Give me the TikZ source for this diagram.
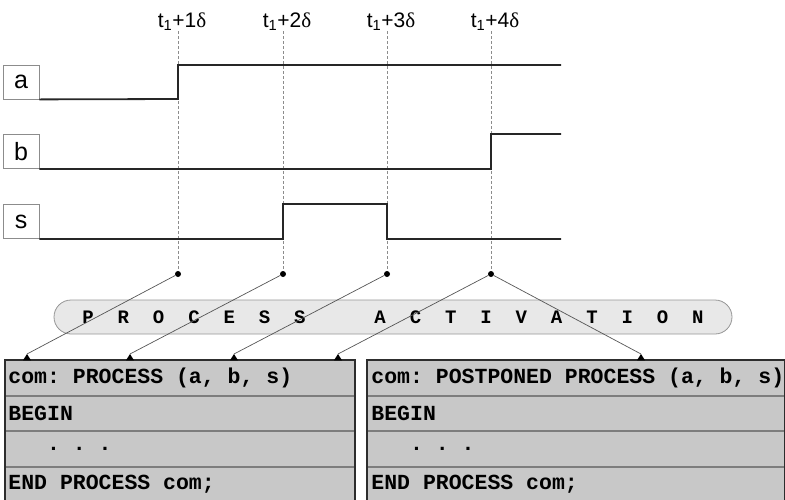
\documentclass[tikz,border=0pt]{standalone}
\usepackage{fontspec}
\setmainfont{Liberation Sans}
\newfontfamily\symfont{Liberation Serif}
\newfontfamily\codefont{Liberation Mono}
\definecolor{codefill}{RGB}{200,200,200}
\definecolor{rowline}{RGB}{125,125,125}
\definecolor{boxedge}{RGB}{45,45,45}
\definecolor{pillfill}{RGB}{232,232,232}
\definecolor{pilledge}{RGB}{150,150,150}
\definecolor{connc}{RGB}{85,85,85}
\definecolor{dashc}{RGB}{140,140,140}
\newcommand\pletter[1]{\makebox[35.3pt]{#1}}
\newcommand\sk{\hspace*{0.6em}}
\begin{document}
\begin{tikzpicture}[x=1pt,y=-1pt,
  sig/.style={line width=1.8pt, color=black!85, line join=miter},
  tline/.style={dashc, line width=0.7pt, dash pattern=on 3pt off 2pt},
  tlabel/.style={anchor=base, font=\fontsize{21}{24}\selectfont, inner sep=0pt},
  slabel/.style={draw=black!45, fill=white, line width=0.8pt, minimum width=36pt, minimum height=34pt, inner sep=0pt, font=\fontsize{25}{27}\selectfont},
  dotn/.style={circle, fill=black, inner sep=0pt, minimum size=6pt},
  pill/.style={draw=pilledge, fill=pillfill, line width=0.8pt, rounded corners=17pt, minimum width=678pt, minimum height=34pt, inner sep=0pt, font=\codefont\bfseries\fontsize{19}{22}\selectfont},
  row/.style={draw=rowline, fill=codefill, line width=0.8pt, minimum height=34.75pt, inner ysep=0pt, anchor=north west, font=\codefont\bfseries\fontsize{21.5}{24}\selectfont, align=left},
  outer/.style={draw=boxedge, line width=1.4pt},
  conn/.style={connc, line width=0.7pt},
  tip/.style={fill=black}
]
\useasboundingbox (0,0) rectangle (785,499);

% time labels and dashed lines
\node[tlabel] (T1) at (182,27) {t\textsubscript{1}+1{\symfont δ}};
\node[tlabel] (T2) at (287,27) {t\textsubscript{1}+2{\symfont δ}};
\node[tlabel] (T3) at (391,27) {t\textsubscript{1}+3{\symfont δ}};
\node[tlabel] (T4) at (495,27) {t\textsubscript{1}+4{\symfont δ}};
\coordinate (top1) at (178,31);
\coordinate (top2) at (283,31);
\coordinate (top3) at (387,31);
\coordinate (top4) at (491,31);
\node[dotn] (d1) at (178,274) {};
\node[dotn] (d2) at (283,274) {};
\node[dotn] (d3) at (387,274) {};
\node[dotn] (d4) at (491,274) {};
\foreach \i in {1,2,3,4} \draw[tline] (top\i) -- (d\i);

% signals
\node[slabel] (la) at (21,82) {a};
\node[slabel] (lb) at (21,151.5) {b};
\node[slabel] (ls) at (21,221.5) {s};
\draw[sig] (la.south east) -- (178,99) -- (178,65) -- (561,65);
\draw[sig] (lb.south east) -- (491,169) -- (491,134) -- (561,134);
\draw[sig] (ls.south east) -- (283,239) -- (283,204) -- (387,204) -- (387,239) -- (561,239);

% process activation pill
\node[pill] (pa) at (393,317) {\pletter{P}\pletter{R}\pletter{O}\pletter{C}\pletter{E}\pletter{S}\pletter{S}\hspace{45pt}\pletter{A}\pletter{C}\pletter{T}\pletter{I}\pletter{V}\pletter{A}\pletter{T}\pletter{I}\pletter{O}\pletter{N}};

% left code box
\node[row, inner xsep=3pt, text width=343pt] (l1) at (5,360) {com:\sk PROCESS\sk (a,\sk b,\sk s)};
\node[row, inner xsep=3pt, text width=343pt] (l2) at (l1.south west) {BEGIN};
\node[row, inner xsep=3pt, text width=343pt] (l3) at (l2.south west) {\sk\sk\sk.\sk.\sk.};
\node[row, inner xsep=3pt, text width=343pt] (l4) at (l3.south west) {END\sk PROCESS\sk com;};
\draw[outer] (l1.north west) rectangle (l4.south east);

% right code box
\node[row, inner xsep=4pt, text width=409pt] (r1) at (367,360) {com:\sk POSTPONED\sk PROCESS\sk (a,\sk b,\sk s)};
\node[row, inner xsep=4pt, text width=409pt] (r2) at (r1.south west) {BEGIN};
\node[row, inner xsep=4pt, text width=409pt] (r3) at (r2.south west) {\sk\sk\sk.\sk.\sk.};
\node[row, inner xsep=4pt, text width=409pt] (r4) at (r3.south west) {END\sk PROCESS\sk com;};
\draw[outer] (r1.north west) rectangle (r4.south east);

% connectors
\coordinate (e1) at (27,354);
\coordinate (e2) at (130,354);
\coordinate (e3) at (234,354);
\coordinate (e4) at (338,354);
\coordinate (e5) at (641,354);
\draw[conn] (d1) -- (e1);
\draw[conn] (d2) -- (e2);
\draw[conn] (d3) -- (e3);
\draw[conn] (d4) -- (e4);
\draw[conn] (d4) -- (e5);
\foreach \e in {e1,e2,e3,e4,e5} \fill[tip] (\e) -- ++(-4,6.3) -- ++(8,0) -- cycle;
\end{tikzpicture}
\end{document}
